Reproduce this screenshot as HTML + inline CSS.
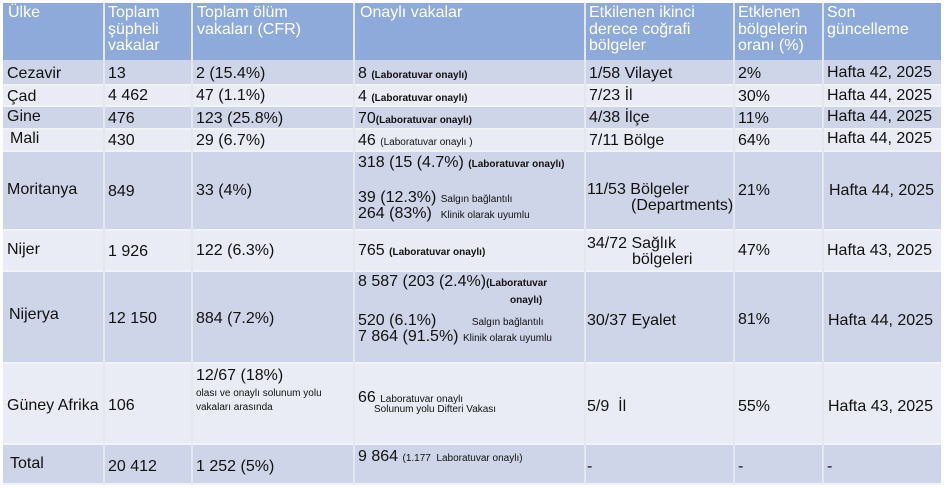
<!DOCTYPE html>
<html><head><meta charset="utf-8"><style>
body{margin:0;width:944px;height:490px;background:#fff;position:relative;overflow:hidden;font-family:"Liberation Sans",Arial,sans-serif;color:#111}
.r{position:absolute;left:3px;width:938px}
.v{position:absolute;top:3px;width:2px;height:481px;background:#e4e7ee}
.h{position:absolute;left:3px;width:938px;height:2px;background:#f2f3f7}
.t{position:absolute;font-size:16px;line-height:16px;white-space:nowrap}
.hd{position:absolute;font-size:16px;line-height:16.5px;color:#fff}
.s{font-size:10px;font-weight:bold}
.n{font-size:10px}
</style></head><body>
<div class="r" style="top:3px;height:57px;background:#8eaadb"></div>
<div class="r" style="top:60px;height:25px;background:#cfd5e8"></div>
<div class="r" style="top:85px;height:21px;background:#e9ecf4"></div>
<div class="r" style="top:106px;height:23px;background:#cfd5e8"></div>
<div class="r" style="top:129px;height:22px;background:#e9ecf4"></div>
<div class="r" style="top:151px;height:79px;background:#cfd5e8"></div>
<div class="r" style="top:230px;height:41px;background:#e9ecf4"></div>
<div class="r" style="top:271px;height:92px;background:#cfd5e8"></div>
<div class="r" style="top:363px;height:81px;background:#e9ecf4"></div>
<div class="r" style="top:444px;height:40px;background:#cfd5e8"></div>
<div class="h" style="top:84px"></div><div class="h" style="top:105px"></div><div class="h" style="top:128px"></div><div class="h" style="top:150px"></div><div class="h" style="top:229px"></div><div class="h" style="top:270px"></div><div class="h" style="top:362px"></div><div class="h" style="top:443px"></div><div class="h" style="top:483px"></div>
<div class="v" style="left:103px"></div><div class="v" style="left:191px"></div><div class="v" style="left:353px"></div><div class="v" style="left:584px"></div><div class="v" style="left:733px"></div><div class="v" style="left:822px"></div>

<div class="hd" style="left:8px;top:5px">Ülke</div>
<div class="hd" style="left:108px;top:5px">Toplam<br>şüpheli<br>vakalar</div>
<div class="hd" style="left:197px;top:5px">Toplam ölüm<br>vakaları (CFR)</div>
<div class="hd" style="left:360px;top:5px">Onaylı vakalar</div>
<div class="hd" style="left:589px;top:5px">Etkilenen ikinci<br>derece coğrafi<br>bölgeler</div>
<div class="hd" style="left:738px;top:5px">Etklenen<br>bölgelerin<br>oranı (%)</div>
<div class="hd" style="left:827px;top:5px">Son<br>güncelleme</div>

<div class="t" style="left:7px;top:66px">Cezavir</div><div class="t" style="left:108px;top:66px">13</div><div class="t" style="left:196px;top:66px">2 (15.4%)</div><div class="t" style="left:358px;top:66px">8 <span class="s">(Laboratuvar onaylı)</span></div><div class="t" style="left:589px;top:66px">1/58 Vilayet</div><div class="t" style="left:738px;top:66px">2%</div><div class="t" style="left:827px;top:65px">Hafta 42, 2025</div>
<div class="t" style="left:7px;top:89px">Çad</div><div class="t" style="left:108px;top:88px">4 462</div><div class="t" style="left:196px;top:88px">47 (1.1%)</div><div class="t" style="left:358px;top:89px">4 <span class="s">(Laboratuvar onaylı)</span></div><div class="t" style="left:589px;top:88px">7/23 İl</div><div class="t" style="left:738px;top:89px">30%</div><div class="t" style="left:827px;top:88px">Hafta 44, 2025</div>
<div class="t" style="left:7px;top:109px">Gine</div><div class="t" style="left:108px;top:111px">476</div><div class="t" style="left:196px;top:111px">123 (25.8%)</div><div class="t" style="left:358px;top:111px">70<span class="s">(Laboratuvar onaylı)</span></div><div class="t" style="left:589px;top:110px">4/38 İlçe</div><div class="t" style="left:738px;top:111px">11%</div><div class="t" style="left:827px;top:109px">Hafta 44, 2025</div>
<div class="t" style="left:10px;top:131px">Mali</div><div class="t" style="left:108px;top:133px">430</div><div class="t" style="left:196px;top:133px">29 (6.7%)</div><div class="t" style="left:358px;top:133px">46 <span class="n">(Laboratuvar onaylı )</span></div><div class="t" style="left:589px;top:133px">7/11 Bölge</div><div class="t" style="left:738px;top:133px">64%</div><div class="t" style="left:827px;top:131px">Hafta 44, 2025</div>

<div class="t" style="left:7px;top:182px">Moritanya</div><div class="t" style="left:108px;top:184px">849</div><div class="t" style="left:196px;top:183px">33 (4%)</div>
<div class="t" style="left:358px;top:155px">318 (15 (4.7%) <span class="s">(Laboratuvar onaylı)</span></div>
<div class="t" style="left:358px;top:190px">39 (12.3%) <span class="n">Salgın bağlantılı</span></div>
<div class="t" style="left:358px;top:206px">264 (83%)&nbsp; <span class="n">Klinik olarak uyumlu</span></div>
<div class="t" style="left:587px;top:182px">11/53 Bölgeler</div><div class="t" style="left:631px;top:198px">(Departments)</div><div class="t" style="left:738px;top:183px">21%</div><div class="t" style="left:829px;top:183px">Hafta 44, 2025</div>

<div class="t" style="left:7px;top:242px">Nijer</div><div class="t" style="left:108px;top:244px">1 926</div><div class="t" style="left:196px;top:243px">122 (6.3%)</div><div class="t" style="left:358px;top:243px">765 <span class="s">(Laboratuvar onaylı)</span></div><div class="t" style="left:587px;top:236px">34/72 Sağlık</div><div class="t" style="left:632px;top:252px">bölgeleri</div><div class="t" style="left:738px;top:243px">47%</div><div class="t" style="left:827px;top:243px">Hafta 43, 2025</div>

<div class="t" style="left:9px;top:307px">Nijerya</div><div class="t" style="left:108px;top:311px">12 150</div><div class="t" style="left:196px;top:311px">884 (7.2%)</div>
<div class="t" style="left:358px;top:274px">8 587 (203 (2.4%)<span class="s">(Laboratuvar</span></div><div class="t" style="left:510px;top:291px"><span class="s">onaylı)</span></div>
<div class="t" style="left:358px;top:313px">520 (6.1%)&nbsp;&nbsp;&nbsp;&nbsp;&nbsp;&nbsp;&nbsp; <span class="n">Salgın bağlantılı</span></div>
<div class="t" style="left:358px;top:329px">7 864 (91.5%) <span class="n">Klinik olarak uyumlu</span></div>
<div class="t" style="left:587px;top:313px">30/37 Eyalet</div><div class="t" style="left:738px;top:312px">81%</div><div class="t" style="left:828px;top:313px">Hafta 44, 2025</div>

<div class="t" style="left:7px;top:398px">Güney Afrika</div><div class="t" style="left:108px;top:398px">106</div>
<div class="t" style="left:196px;top:368px">12/67 (18%)</div><div class="t" style="left:196px;top:387px;font-size:10px;line-height:14px">olası ve onaylı solunum yolu<br>vakaları arasında</div>
<div class="t" style="left:358px;top:390px">66 <span class="n">Laboratuvar onaylı</span></div><div class="t" style="left:374px;top:402px;font-size:10px">Solunum yolu Difteri Vakası</div>
<div class="t" style="left:587px;top:399px">5/9&nbsp; İl</div><div class="t" style="left:738px;top:399px">55%</div><div class="t" style="left:828px;top:399px">Hafta 43, 2025</div>

<div class="t" style="left:10px;top:456px">Total</div><div class="t" style="left:108px;top:459px">20 412</div><div class="t" style="left:196px;top:459px">1 252 (5%)</div>
<div class="t" style="left:358px;top:449px">9 864 <span class="n">(1.177&nbsp; Laboratuvar onaylı)</span></div>
<div class="t" style="left:587px;top:459px">-</div><div class="t" style="left:738px;top:459px">-</div><div class="t" style="left:827px;top:459px">-</div>
</body></html>
